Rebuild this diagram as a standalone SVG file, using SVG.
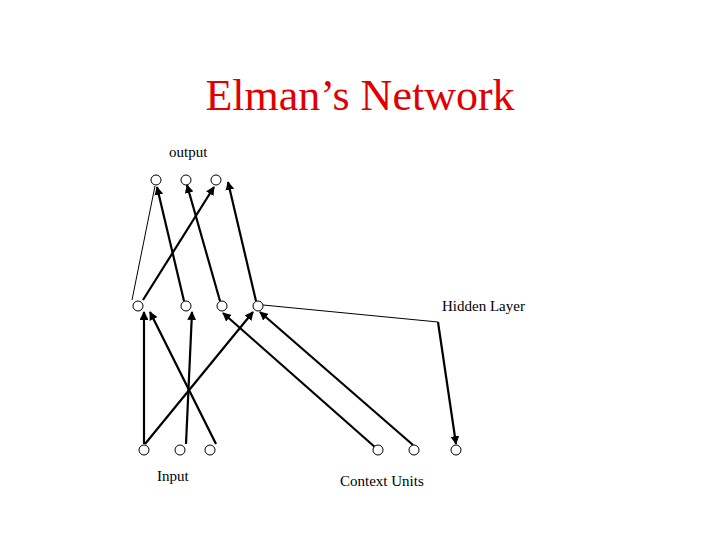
<svg xmlns="http://www.w3.org/2000/svg" width="720" height="540" viewBox="0 0 720 540">
<style>
text{font-family:"Liberation Serif",serif;fill:#000}
.n circle{fill:#fff;stroke:#000;stroke-width:1}
.c line,.c polyline{stroke:#000;stroke-width:2.2;fill:none}
.c .thin{stroke-width:1}
</style>
<defs><marker id="a" viewBox="0 0 10 10" refX="9" refY="5" markerWidth="4" markerHeight="4" orient="auto"><path d="M0,0L10,5L0,10z" fill="#000"/></marker></defs>
<rect width="720" height="540" fill="#fff"/>
<text x="360" y="110" font-size="44" text-anchor="middle" style="fill:#e00000">Elman’s Network</text>
<text x="169" y="157" font-size="15">output</text>
<text x="442" y="311" font-size="15">Hidden Layer</text>
<text x="157" y="481" font-size="15">Input</text>
<text x="340" y="486" font-size="15">Context Units</text>
<g class="c" id="connectors">
<line class="thin" x1="132" y1="300" x2="155" y2="186"/>
<line x1="184" y1="301" x2="157" y2="187" marker-end="url(#a)"/>
<line x1="143" y1="300" x2="214" y2="187" marker-end="url(#a)"/>
<line x1="220" y1="301" x2="187" y2="185" marker-end="url(#a)"/>
<line x1="256" y1="301" x2="228" y2="182" marker-end="url(#a)"/>
<line x1="144" y1="444" x2="144" y2="312" marker-end="url(#a)"/>
<line x1="145" y1="444" x2="253" y2="312" marker-end="url(#a)"/>
<line x1="186" y1="444" x2="192" y2="312" marker-end="url(#a)"/>
<line x1="216" y1="444" x2="150" y2="312" marker-end="url(#a)"/>
<line x1="376" y1="448" x2="223" y2="313" marker-end="url(#a)"/>
<line x1="413" y1="445" x2="260" y2="312" marker-end="url(#a)"/>
<polyline class="thin" points="263,305 438,322"/>
<line x1="438" y1="322" x2="456" y2="444" marker-end="url(#a)"/>
</g>
<g class="n">
<g id="o1"><circle cx="156" cy="180" r="5"/></g>
<g id="o2"><circle cx="186" cy="180" r="5"/></g>
<g id="o3"><circle cx="216" cy="180" r="5"/></g>
<g id="h1"><circle cx="138" cy="306" r="5"/></g>
<g id="h2"><circle cx="186" cy="306" r="5"/></g>
<g id="h3"><circle cx="222" cy="306" r="5"/></g>
<g id="h4"><circle cx="258" cy="306" r="5"/></g>
<g id="i1"><circle cx="144" cy="450" r="5"/></g>
<g id="i2"><circle cx="180" cy="450" r="5"/></g>
<g id="i3"><circle cx="210" cy="450" r="5"/></g>
<g id="c1"><circle cx="378" cy="450" r="5"/></g>
<g id="c2"><circle cx="414" cy="450" r="5"/></g>
<g id="c3"><circle cx="456" cy="450" r="5"/></g>
</g>
</svg>
